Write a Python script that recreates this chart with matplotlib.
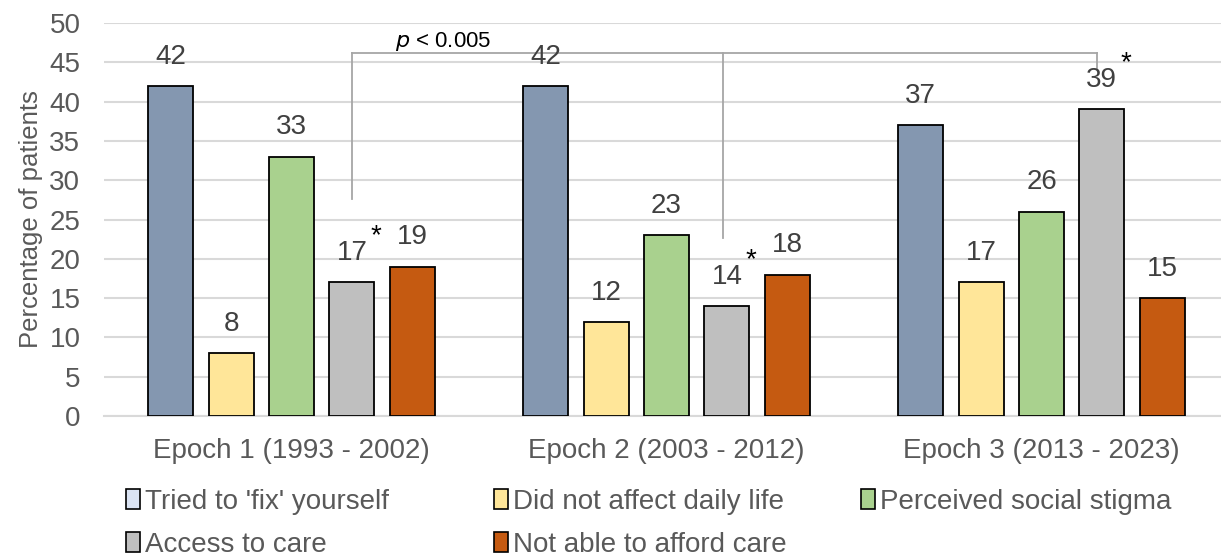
import matplotlib.pyplot as plt
import numpy as np
from matplotlib.patches import Patch

plt.rcParams['font.family'] = ['Liberation Sans', 'DejaVu Sans']

# Data
epochs = ["Epoch 1 (1993 - 2002)", "Epoch 2 (2003 - 2012)", "Epoch 3 (2013 - 2023)"]
reasons = ["Tried to 'fix' yourself", "Did not affect daily life", "Perceived social stigma",
           "Access to care", "Not able to afford care"]
values = {
    "Tried to 'fix' yourself": [42, 42, 37],
    "Did not affect daily life": [8, 12, 17],
    "Perceived social stigma": [33, 23, 26],
    "Access to care": [17, 14, 39],
    "Not able to afford care": [19, 18, 15],
}
y_ticks = [0, 5, 10, 15, 20, 25, 30, 35, 40, 45, 50]
p_text = "< 0.005"
starred = "Access to care"   # series marked with an asterisk in every epoch

bar_colors = ["#8497B0", "#FFE699", "#A9D18E", "#BFBFBF", "#C55A11"]
legend_colors = ["#DAE3F3", "#FFE699", "#A9D18E", "#BFBFBF", "#C55A11"]
TEXT = "#595959"
LABEL = "#404040"
GRID = "#D9D9D9"
BRACKET = "#A6A6A6"

fig = plt.figure(figsize=(12.21, 5.6), dpi=100)
ax = fig.add_axes([104 / 1221, 144 / 560, 1 - 104 / 1221, (416 - 23) / 560])

x = np.arange(len(epochs))
step = 0.161
width = 0.12

for i, name in enumerate(reasons):
    pos = x + (i - 2) * step
    ax.bar(pos, values[name], width, color=bar_colors[i], edgecolor="black", linewidth=1.3, zorder=3)
    for px, v in zip(pos, values[name]):
        ax.annotate(str(v), (px, v), xytext=(0, 21), textcoords="offset points",
                    ha="center", va="center", fontsize=20, color=LABEL, zorder=5)

# Asterisks next to the access-to-care labels
idx = reasons.index(starred)
for px, v in zip(x + (idx - 2) * step, values[starred]):
    ax.annotate("*", (px, v), xytext=(17, 33), textcoords="offset points",
                ha="center", va="center", fontsize=20, color="black", zorder=5)

# Significance bracket across the access-to-care bars
gx = x + (idx - 2) * step
top = 46.2
ax.plot([gx[0], gx[0]], [27.6, top], color=BRACKET, lw=1.3, zorder=4)
ax.plot([gx[0], gx[2] - 0.014], [top, top], color=BRACKET, lw=1.3, zorder=4)
ax.plot([gx[1] - 0.01, gx[1] - 0.01], [22.7, top], color=BRACKET, lw=1.3, zorder=4)
ax.plot([gx[2] - 0.014, gx[2] - 0.014], [44.3, top], color=BRACKET, lw=1.3, zorder=4)
ax.text(gx[0] + 0.244, 47.7, "$\\it{p}$ " + p_text, ha="center", va="center",
        fontsize=16, color="black", zorder=5)

ax.set_xlim(-0.5, (1221 - 291.5) / 375)
ax.set_ylim(0, 50)
ax.set_yticks(y_ticks)
ax.set_xticks(x)
ax.set_xticklabels(epochs)
ax.tick_params(axis="both", length=0, colors=TEXT, labelsize=20)
ax.tick_params(axis="y", pad=17)
ax.tick_params(axis="x", pad=16)
ax.yaxis.grid(True, color=GRID, linewidth=1.5, zorder=0)
ax.set_axisbelow(True)
for s in ["top", "right", "left"]:
    ax.spines[s].set_visible(False)
ax.spines["bottom"].set_color(GRID)
ax.spines["bottom"].set_linewidth(1.5)

ax.set_ylabel("Percentage of patients", fontsize=18.5, color=TEXT)
ax.yaxis.set_label_coords(-(104 - 43) / (1221 - 104), 0.5)

# Legend: one block per column, entries laid out row-wise
handles = [Patch(facecolor=c, edgecolor="black", linewidth=1.2, label=r)
           for c, r in zip(legend_colors, reasons)]
columns = [[0, 3], [1, 4], [2]]
col_x = [126, 494, 861]
for cols, cx in zip(columns, col_x):
    fig.legend([handles[k] for k in cols], [reasons[k] for k in cols],
               loc="upper left", bbox_to_anchor=(cx / 1221, 1 - 489 / 560), frameon=False,
               fontsize=20, handlelength=0.5, handleheight=0.75, handletextpad=0.2,
               labelspacing=0.6, borderaxespad=0, borderpad=0, labelcolor=TEXT)

fig.savefig("out.png", dpi=100)
